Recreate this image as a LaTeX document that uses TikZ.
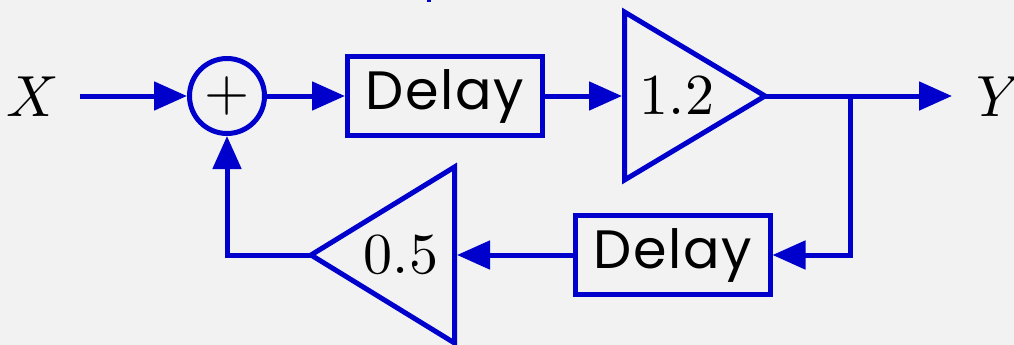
\documentclass[tikz,border=0pt]{standalone}
\DeclareFontShape{OT1}{cmr}{m}{n}{<->cmr10}{}
\DeclareFontShape{OML}{cmm}{m}{it}{<->cmmi10}{}
\DeclareFontShape{OMS}{cmsy}{m}{n}{<->cmsy10}{}
\usepackage{fontspec}
\newfontfamily\delayfont{Poppins}[LetterSpace=3]
\usetikzlibrary{arrows.meta}
\definecolor{bg}{HTML}{F2F2F2}
\definecolor{dblue}{HTML}{0000CC}
\tikzset{
  wire/.style={draw=dblue, line width=5pt, line join=miter},
  arr/.style={wire, -{Triangle[length=33pt,width=28pt]}},
  blockbox/.style={draw=dblue, line width=5pt, minimum width=195pt, minimum height=79pt, inner sep=0pt,
    font=\delayfont\fontsize{54}{60}\selectfont},
  sumnode/.style={draw=dblue, line width=5pt, circle, minimum size=75pt, inner sep=0pt,
    font=\fontsize{58}{60}\selectfont},
  lbl/.style={font=\fontsize{58}{60}\selectfont, inner sep=0pt},
  gain/.style={draw=dblue, line width=5pt, line join=miter}
}
\begin{document}
\begin{tikzpicture}[x=1pt,y=-1pt]
\fill[bg] (0,0) rectangle (1014,345);
\useasboundingbox (0,0) rectangle (1014,345);
\begin{scope}
\clip (0,0) rectangle (1014,345);
% tiny fragment at top edge
\fill[dblue] (427,-2) rectangle (431,2);

\node[lbl, anchor=base] (X) at (33,116) {$X$};
\node[lbl, anchor=base west] (Y) at (976,116) {$Y$};
\coordinate (xin) at (80,96);

\node[sumnode] (add) at (227,96) {$+$};
\node[blockbox] (d1) at (445,96) {Delay};

% gain 1.2
\coordinate (t1a) at (624.5,12);
\coordinate (t1b) at (624.5,180);
\coordinate (t1c) at (765,96);
\coordinate (t1in) at (622,96);
\draw[gain] (t1a) -- (t1c) -- (t1b) -- cycle;
\node[lbl] (g1) at (677,96) {$1.2$};

\coordinate (branch) at (850,96);
\coordinate (yout) at (952,96);

\node[blockbox] (d2) at (672.5,255) {Delay};

% gain 0.5
\coordinate (t2a) at (454.5,167);
\coordinate (t2b) at (454.5,343);
\coordinate (t2c) at (311,255);
\coordinate (t2in) at (457,255);
\draw[gain] (t2a) -- (t2c) -- (t2b) -- cycle;
\node[lbl] (g2) at (401,255) {$0.5$};

% connectors
\draw[arr] (xin) -- (add.west);
\draw[arr] (add.east) -- (d1.west);
\draw[arr] (d1.east) -- (t1in);
\draw[arr] (t1c) -- (yout);
\draw[arr] (branch) |- (d2.east);
\draw[arr] (d2.west) -- (t2in);
\draw[arr] (t2c) -| (add.south);
\end{scope}
\end{tikzpicture}
\end{document}
